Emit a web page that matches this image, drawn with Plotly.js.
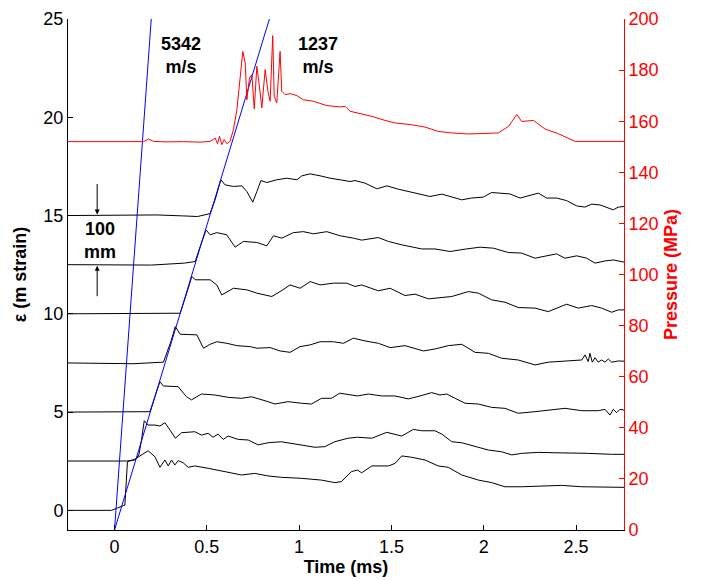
<!DOCTYPE html>
<html>
<head>
<meta charset="utf-8">
<script src="https://cdn.plot.ly/plotly-3.0.1.min.js"></script>
<style>html,body{margin:0;padding:0;background:#fff;}#chart{width:701px;height:581px;}</style>
</head>
<body>
<div id="chart"></div>
<script>
// ---- data (time in ms, strain offsets in m strain, pressure in MPa) ----
const tS15 = [-0.252, 0.23, 0.374, 0.45, 0.518, 0.545, 0.576, 0.599, 0.644, 0.69, 0.717, 0.749, 0.771, 0.793, 0.825, 0.879, 0.933, 0.988, 1.015, 1.06, 1.114, 1.168, 1.222, 1.276, 1.303, 1.357, 1.421, 1.475, 1.538, 1.592, 1.655, 1.709, 1.773, 1.845, 1.881, 1.935, 1.998, 2.043, 2.097, 2.142, 2.197, 2.251, 2.296, 2.341, 2.395, 2.449, 2.504, 2.548, 2.585, 2.63, 2.675, 2.702, 2.729, 2.761];
const eS15 = [15.0, 15.03, 14.98, 14.95, 15.1, 15.8, 16.82, 16.56, 16.48, 16.51, 16.22, 15.68, 16.22, 16.78, 16.68, 16.82, 16.9, 16.82, 17.02, 17.12, 17.02, 16.9, 16.82, 16.73, 16.78, 16.65, 16.36, 16.51, 16.34, 16.22, 16.09, 15.97, 16.09, 15.89, 15.8, 15.89, 15.94, 16.17, 16.14, 16.1, 15.89, 16.04, 16.14, 15.89, 15.89, 15.76, 15.49, 15.43, 15.58, 15.54, 15.38, 15.29, 15.43, 15.46];

const tS125 = [-0.252, 0.2, 0.38, 0.437, 0.464, 0.496, 0.518, 0.554, 0.608, 0.653, 0.698, 0.771, 0.825, 0.861, 0.906, 0.969, 1.023, 1.078, 1.15, 1.222, 1.294, 1.339, 1.429, 1.484, 1.556, 1.628, 1.664, 1.736, 1.818, 1.899, 1.98, 2.052, 2.133, 2.206, 2.278, 2.341, 2.395, 2.44, 2.504, 2.558, 2.603, 2.657, 2.702, 2.761];
const eS125 = [12.5, 12.48, 12.58, 12.66, 13.42, 14.27, 14.02, 14.13, 14.02, 13.39, 13.68, 13.63, 13.46, 13.97, 13.85, 14.13, 14.18, 14.07, 14.18, 13.97, 13.85, 13.75, 13.88, 13.68, 13.51, 13.39, 13.3, 13.3, 13.17, 13.29, 13.39, 13.34, 13.12, 13.09, 12.83, 12.95, 13.05, 12.83, 12.95, 12.83, 12.58, 12.69, 12.74, 12.63];

const tS10 = [-0.252, 0.2, 0.356, 0.388, 0.419, 0.437, 0.518, 0.554, 0.581, 0.644, 0.717, 0.771, 0.852, 0.897, 0.951, 1.005, 1.06, 1.114, 1.186, 1.258, 1.303, 1.339, 1.429, 1.493, 1.574, 1.628, 1.7, 1.827, 1.917, 1.971, 2.043, 2.115, 2.187, 2.278, 2.35, 2.449, 2.512, 2.585, 2.639, 2.693, 2.729, 2.761];
const eS10 = [10.0, 10.02, 10.03, 10.96, 11.9, 11.73, 11.73, 11.47, 10.96, 11.3, 11.22, 11.05, 10.88, 11.13, 11.47, 11.3, 11.64, 11.47, 11.56, 11.56, 11.39, 11.47, 11.17, 11.3, 10.93, 11.0, 10.76, 10.88, 11.13, 11.05, 10.71, 10.59, 10.32, 10.29, 10.11, 10.49, 10.29, 10.42, 10.29, 10.08, 10.2, 10.2];

const tS75 = [-0.252, 0.1, 0.265, 0.305, 0.329, 0.356, 0.446, 0.482, 0.518, 0.554, 0.608, 0.663, 0.735, 0.771, 0.843, 0.897, 0.951, 1.005, 1.06, 1.114, 1.186, 1.24, 1.294, 1.327, 1.357, 1.429, 1.493, 1.574, 1.673, 1.736, 1.808, 1.881, 1.953, 2.025, 2.097, 2.187, 2.278, 2.35, 2.44, 2.531, 2.549, 2.566, 2.576, 2.588, 2.603, 2.62, 2.639, 2.657, 2.675, 2.693, 2.729, 2.761];
const eS75 = [7.5, 7.46, 7.54, 8.58, 9.35, 8.96, 8.93, 8.25, 8.45, 8.58, 8.5, 8.38, 8.33, 8.25, 8.28, 8.11, 8.04, 8.33, 8.42, 8.58, 8.58, 8.5, 8.76, 8.67, 8.62, 8.5, 8.28, 8.38, 8.11, 8.21, 8.38, 8.45, 8.04, 7.99, 7.74, 7.65, 7.4, 7.54, 7.6, 7.65, 7.91, 7.57, 7.99, 7.54, 7.77, 7.54, 7.65, 7.54, 7.7, 7.54, 7.6, 7.59];

const tS5 = [-0.252, 0.192, 0.222, 0.246, 0.264, 0.345, 0.39, 0.417, 0.471, 0.543, 0.616, 0.688, 0.742, 0.796, 0.832, 0.868, 0.94, 1.012, 1.067, 1.121, 1.175, 1.22, 1.274, 1.316, 1.375, 1.448, 1.52, 1.592, 1.655, 1.718, 1.763, 1.8, 1.845, 1.899, 1.971, 2.043, 2.115, 2.187, 2.278, 2.35, 2.44, 2.531, 2.62, 2.657, 2.684, 2.702, 2.72, 2.738, 2.761];
const eS5 = [5.0, 5.02, 5.87, 6.55, 6.33, 6.29, 5.78, 5.62, 5.92, 5.87, 5.75, 5.7, 5.78, 5.65, 5.53, 5.41, 5.53, 5.45, 5.41, 5.7, 5.7, 5.96, 5.9, 5.82, 5.92, 5.82, 5.82, 5.67, 5.82, 5.99, 5.87, 5.92, 5.7, 5.45, 5.41, 5.24, 5.19, 4.94, 5.02, 5.1, 5.19, 5.07, 5.07, 5.14, 4.85, 5.14, 4.97, 5.14, 5.1];

const tS25 = [-0.252, 0.065, 0.11, 0.132, 0.146, 0.161, 0.182, 0.219, 0.246, 0.273, 0.3, 0.33, 0.363, 0.435, 0.471, 0.507, 0.534, 0.561, 0.589, 0.616, 0.67, 0.724, 0.778, 0.832, 0.904, 0.977, 1.085, 1.139, 1.193, 1.265, 1.316, 1.394, 1.475, 1.556, 1.619, 1.664, 1.736, 1.773, 1.827, 1.881, 1.953, 2.025, 2.097, 2.152, 2.206, 2.296, 2.386, 2.476, 2.566, 2.693, 2.761];
const eS25 = [2.51, 2.51, 2.56, 2.82, 3.58, 4.56, 4.34, 4.34, 4.29, 4.46, 4.09, 3.67, 3.95, 4.0, 3.83, 3.92, 3.72, 3.88, 3.61, 3.78, 3.61, 3.58, 3.33, 3.44, 3.49, 3.38, 3.21, 3.24, 3.49, 3.67, 3.72, 3.67, 3.97, 3.78, 4.12, 4.05, 4.05, 3.88, 3.49, 3.44, 3.27, 3.07, 2.98, 2.82, 2.9, 2.95, 2.93, 2.93, 2.9, 2.85, 2.85];

const tS0 = [-0.252, -0.016, 0.011, 0.038, 0.056, 0.07, 0.11, 0.138, 0.182, 0.219, 0.246, 0.273, 0.291, 0.309, 0.327, 0.345, 0.372, 0.399, 0.435, 0.507, 0.579, 0.688, 0.76, 0.832, 0.904, 1.012, 1.121, 1.193, 1.229, 1.283, 1.316, 1.339, 1.394, 1.484, 1.52, 1.556, 1.61, 1.682, 1.754, 1.808, 1.881, 1.971, 2.043, 2.115, 2.206, 2.314, 2.422, 2.531, 2.639, 2.761];
const eS0 = [0.0, 0.0, 0.1, 0.18, 0.27, 2.47, 2.6, 2.77, 3.03, 2.73, 2.19, 2.56, 2.26, 2.56, 2.31, 2.53, 2.42, 2.19, 2.26, 2.14, 2.02, 1.8, 1.88, 1.75, 1.68, 1.63, 1.54, 1.41, 1.46, 1.97, 2.05, 1.91, 2.26, 2.26, 2.39, 2.77, 2.7, 2.56, 2.26, 2.19, 1.8, 1.54, 1.41, 1.2, 1.2, 1.24, 1.27, 1.2, 1.2, 1.17];

const tP = [-0.252, 0.157, 0.184, 0.211, 0.284, 0.374, 0.464, 0.518, 0.545, 0.558, 0.569, 0.581, 0.594, 0.608, 0.626, 0.644, 0.663, 0.677, 0.695, 0.708, 0.717, 0.731, 0.744, 0.757, 0.771, 0.785, 0.798, 0.816, 0.831, 0.843, 0.857, 0.865, 0.879, 0.897, 0.906, 0.924, 0.951, 0.988, 1.023, 1.078, 1.15, 1.222, 1.25, 1.276, 1.321, 1.394, 1.466, 1.52, 1.61, 1.682, 1.754, 1.827, 1.917, 1.99, 2.08, 2.135, 2.179, 2.206, 2.27, 2.333, 2.405, 2.495, 2.761];
const pP = [152.0, 152.0, 153.0, 152.1, 151.9, 152.0, 151.8, 152.1, 153.4, 151.2, 154.1, 150.8, 152.8, 151.2, 152.1, 156.7, 164.5, 173.6, 187.3, 182.8, 168.4, 176.9, 178.2, 164.8, 181.5, 173.6, 165.2, 180.2, 171.7, 167.8, 193.5, 169.7, 167.1, 187.3, 171.7, 170.4, 170.8, 170.0, 168.4, 167.8, 166.1, 165.6, 165.8, 163.9, 163.2, 161.9, 160.3, 159.3, 158.6, 157.7, 156.0, 155.4, 155.0, 155.1, 155.4, 158.0, 162.6, 159.9, 160.3, 156.9, 155.1, 152.1, 152.1];

// wave-front fit lines
const fastT = [0, 0.199], fastE = [-1, 25];   // 5342 m/s
const slowT = [0, 0.839], slowE = [-1, 25];   // 1237 m/s

const xTicks = [0, 0.5, 1, 1.5, 2, 2.5];
const xTickText = ['0', '0.5', '1', '1.5', '2', '2.5'];
const yTicks = [0, 5, 10, 15, 20, 25];
const pTicks = [0, 20, 40, 60, 80, 100, 120, 140, 160, 180, 200];

const FONT = 'Arial, "Liberation Sans", sans-serif';
const blk = {color: '#000', width: 1};
const strain = [[tS15, eS15], [tS125, eS125], [tS10, eS10], [tS75, eS75], [tS5, eS5], [tS25, eS25], [tS0, eS0]];
const traces = strain.map(([x, y]) => ({x, y, type: 'scatter', mode: 'lines', line: blk, hoverinfo: 'skip'}));
traces.push({x: tP, y: pP, yaxis: 'y2', type: 'scatter', mode: 'lines', line: {color: '#ff0000', width: 1}});
traces.push({x: fastT, y: fastE, type: 'scatter', mode: 'lines', line: {color: '#0000ff', width: 1}});
traces.push({x: slowT, y: slowE, type: 'scatter', mode: 'lines', line: {color: '#0000ff', width: 1}});

const bold = {family: FONT, size: 18, color: '#000', weight: 'bold'};
const layout = {
  width: 701, height: 581,
  margin: {l: 68, r: 77, t: 19, b: 51},
  paper_bgcolor: '#fff', plot_bgcolor: '#fff',
  showlegend: false,
  font: {family: FONT, size: 18, color: '#000'},
  xaxis: {
    range: [-0.252, 2.76], tickvals: xTicks, ticktext: xTickText,
    ticks: 'inside', ticklen: 5, tickcolor: '#000', showline: true, linecolor: '#000', linewidth: 1,
    showgrid: false, zeroline: false, automargin: false,
    tickfont: {family: FONT, size: 18, color: '#000'},
    title: {text: 'Time (ms)', font: bold, standoff: 2}
  },
  yaxis: {
    range: [-1, 25], tickvals: yTicks,
    ticks: 'inside', ticklen: 5, tickcolor: '#000', showline: true, linecolor: '#000', linewidth: 1,
    showgrid: false, zeroline: false, automargin: false,
    tickfont: {family: FONT, size: 18, color: '#000'},
    title: {text: 'ε (m strain)', font: bold, standoff: 12}
  },
  yaxis2: {
    overlaying: 'y', side: 'right', range: [0, 200], tickvals: pTicks,
    ticks: 'inside', ticklen: 5, tickcolor: '#ff0000', showline: true, linecolor: '#ff0000', linewidth: 1,
    showgrid: false, zeroline: false, automargin: false,
    tickfont: {family: FONT, size: 18, color: '#ff0000'},
    title: {text: 'Pressure (MPa)', font: {family: FONT, size: 18, color: '#ff0000', weight: 'bold'}, standoff: 6}
  },
  annotations: [
    {x: 0.361, y: 23.13, xref: 'x', yref: 'y', text: '5342<br>m/s', showarrow: false, font: bold},
    {x: 1.103, y: 23.13, xref: 'x', yref: 'y', text: '1237<br>m/s', showarrow: false, font: bold},
    {x: -0.078, y: 13.71, xref: 'x', yref: 'y', text: '100<br>mm', showarrow: false, font: bold},
    {x: -0.094, y: 15.05, xref: 'x', yref: 'y', text: '', showarrow: true, arrowhead: 2, arrowsize: 1, arrowwidth: 1, arrowcolor: '#000', ax: 0, ay: -32},
    {x: -0.094, y: 12.45, xref: 'x', yref: 'y', text: '', showarrow: true, arrowhead: 2, arrowsize: 1, arrowwidth: 1, arrowcolor: '#000', ax: 0, ay: 32}
  ]
};
Plotly.newPlot('chart', traces, layout, {staticPlot: true, displayModeBar: false});
</script>
</body>
</html>
